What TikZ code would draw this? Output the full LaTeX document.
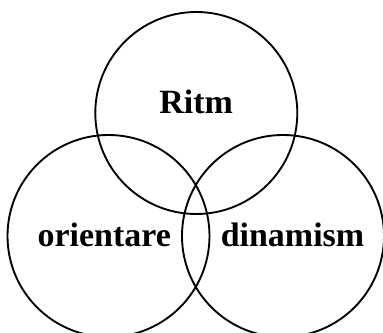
\documentclass[tikz,border=0pt]{standalone}
\usepackage{fontspec}
\setmainfont{Liberation Serif}
\usepackage{tikz}
\usetikzlibrary{positioning}
\tikzset{
  venn/.style  = {circle, draw, line width=1.6pt, minimum size=6.06cm,
                  inner sep=0pt, outer sep=0pt},
  label/.style = {anchor=base, inner sep=0pt, font=\fontsize{29}{34}\selectfont\bfseries},
}

\begin{document}
\begin{tikzpicture}[x=0.03cm, y=-0.03cm]

    \useasboundingbox (0,0) rectangle (383,333);

    %% Circles
    \node[venn] (ritm) at (196.3, 113) {};
    \node[venn] (orie) at (108.5, 236) {};
    \node[venn] (dina) at (283,   236) {};

    %% Labels
    \node[label] (tritm) at (196.2, 113.3) {Ritm};
    \node[label] (torie) at (104.2, 246.5) {orientare};
    \node[label] (tdina) at (292.5, 246.5) {dinamism};

  \end{tikzpicture}
\end{document}
